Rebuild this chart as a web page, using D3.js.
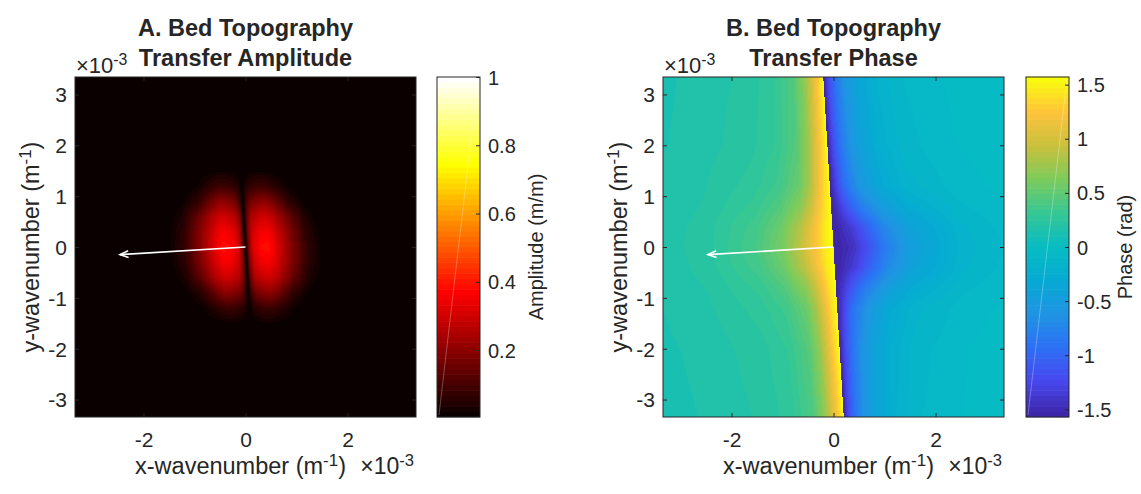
<!DOCTYPE html>
<html>
<head>
<meta charset="utf-8">
<script src="https://cdn.jsdelivr.net/npm/d3@7"></script>
<style>
  body { margin: 0; background: #fff; }
  text { font-family: "Liberation Sans", Arial, Helvetica, sans-serif; fill: #262626; }
</style>
</head>
<body>
<div id="fig"></div>
<script>
// wavenumbers are kept in units of 1e-3 m^-1 (axis exponent shown separately)
const kLim = [-3.343, 3.343];
const xTicks = [-2, 0, 2];
const yTicks = [-3, -2, -1, 0, 1, 2, 3];
const flowArrow = [-2.46, -0.15];   // quiver drawn from the origin
const ridgeSlope = 0.06;            // zero line of the transfer: kx = -0.06 ky

// A. amplitude on a (u, ky) grid, u = kx + ridgeSlope*ky
const ampU = [-1.8, -1.5, -1.2, -0.9, -0.6, -0.45, -0.3, -0.15, -0.07, 0, 0.07, 0.15, 0.3, 0.45, 0.6, 0.9, 1.2, 1.5, 1.8];
const ampKy = [-1.8, -1.5, -1.2, -0.9, -0.6, -0.3, 0, 0.3, 0.6, 0.9, 1.2, 1.5, 1.8];
const ampRows = [
  [0, 0, 0, 0, 0, 0, 0, 0, 0, 0, 0, 0, 0, 0, 0, 0, 0, 0, 0],
  [0, 0, 0, 0, 0.01, 0.015, 0.015, 0.01, 0.006, 0, 0.006, 0.01, 0.015, 0.015, 0.01, 0, 0, 0, 0],
  [0, 0, 0, 0.015, 0.06, 0.08, 0.08, 0.06, 0.04, 0, 0.04, 0.06, 0.08, 0.08, 0.06, 0.015, 0, 0, 0],
  [0, 0, 0.01, 0.06, 0.16, 0.20, 0.19, 0.16, 0.10, 0, 0.10, 0.16, 0.19, 0.20, 0.16, 0.06, 0.01, 0, 0],
  [0, 0, 0.04, 0.14, 0.26, 0.30, 0.29, 0.25, 0.16, 0, 0.16, 0.25, 0.29, 0.30, 0.26, 0.14, 0.04, 0, 0],
  [0, 0.01, 0.06, 0.18, 0.31, 0.36, 0.35, 0.30, 0.19, 0, 0.19, 0.30, 0.35, 0.36, 0.31, 0.18, 0.06, 0.01, 0],
  [0, 0.01, 0.07, 0.19, 0.33, 0.39, 0.38, 0.32, 0.20, 0, 0.20, 0.32, 0.38, 0.39, 0.33, 0.19, 0.07, 0.01, 0],
  [0, 0.01, 0.06, 0.18, 0.31, 0.36, 0.35, 0.30, 0.19, 0, 0.19, 0.30, 0.35, 0.36, 0.31, 0.18, 0.06, 0.01, 0],
  [0, 0, 0.04, 0.14, 0.26, 0.30, 0.29, 0.25, 0.16, 0, 0.16, 0.25, 0.29, 0.30, 0.26, 0.14, 0.04, 0, 0],
  [0, 0, 0.01, 0.06, 0.16, 0.20, 0.19, 0.16, 0.10, 0, 0.10, 0.16, 0.19, 0.20, 0.16, 0.06, 0.01, 0, 0],
  [0, 0, 0, 0.015, 0.06, 0.08, 0.08, 0.06, 0.04, 0, 0.04, 0.06, 0.08, 0.08, 0.06, 0.015, 0, 0, 0],
  [0, 0, 0, 0, 0.01, 0.015, 0.015, 0.01, 0.006, 0, 0.006, 0.01, 0.015, 0.015, 0.01, 0, 0, 0, 0],
  [0, 0, 0, 0, 0, 0, 0, 0, 0, 0, 0, 0, 0, 0, 0, 0, 0, 0, 0]
];
const ampLim = [0.004, 1];
const ampTicks = [0.2, 0.4, 0.6, 0.8, 1];

// B. phase (rad), each side of the zero line read separately
const phaseKy = [-3.4, -2.0, -1.2, -0.8, -0.4, 0, 0.4, 0.8, 1.2, 2.0, 3.4];
const phaseUL = [-3.6, -2.5, -1.5, -1.0, -0.6, -0.4, -0.25, -0.12, 0];
const phaseLeft = [
  [0.12, 0.16, 0.21, 0.28, 0.42, 0.65, 0.95, 1.25, 1.57],
  [0.13, 0.17, 0.23, 0.30, 0.46, 0.70, 1.00, 1.30, 1.57],
  [0.14, 0.19, 0.27, 0.36, 0.55, 0.80, 1.10, 1.35, 1.57],
  [0.15, 0.20, 0.31, 0.44, 0.68, 0.93, 1.20, 1.42, 1.57],
  [0.155, 0.215, 0.37, 0.55, 0.87, 1.11, 1.31, 1.48, 1.57],
  [0.16, 0.22, 0.40, 0.60, 0.95, 1.18, 1.35, 1.50, 1.57],
  [0.155, 0.215, 0.37, 0.55, 0.87, 1.11, 1.31, 1.48, 1.57],
  [0.15, 0.20, 0.31, 0.44, 0.68, 0.93, 1.20, 1.42, 1.57],
  [0.14, 0.19, 0.27, 0.36, 0.55, 0.80, 1.10, 1.35, 1.57],
  [0.13, 0.17, 0.23, 0.30, 0.46, 0.70, 1.00, 1.30, 1.57],
  [0.12, 0.16, 0.21, 0.28, 0.42, 0.65, 0.95, 1.25, 1.57]
];
const phaseUR = [0, 0.12, 0.25, 0.4, 0.6, 1.0, 1.5, 2.5, 3.6];
const phaseRight = [
  [-1.57, -1.15, -0.85, -0.62, -0.42, -0.20, -0.10, -0.04, -0.02],
  [-1.57, -1.20, -0.90, -0.68, -0.47, -0.24, -0.12, -0.05, -0.02],
  [-1.57, -1.30, -1.00, -0.80, -0.58, -0.32, -0.17, -0.07, -0.03],
  [-1.57, -1.42, -1.22, -1.02, -0.80, -0.50, -0.28, -0.11, -0.04],
  [-1.57, -1.52, -1.43, -1.32, -1.12, -0.74, -0.42, -0.16, -0.06],
  [-1.57, -1.55, -1.50, -1.42, -1.25, -0.85, -0.48, -0.18, -0.07],
  [-1.57, -1.52, -1.43, -1.32, -1.12, -0.74, -0.42, -0.16, -0.06],
  [-1.57, -1.42, -1.22, -1.02, -0.80, -0.50, -0.28, -0.11, -0.04],
  [-1.57, -1.30, -1.00, -0.80, -0.58, -0.32, -0.17, -0.07, -0.03],
  [-1.57, -1.20, -0.90, -0.68, -0.47, -0.24, -0.12, -0.05, -0.02],
  [-1.57, -1.15, -0.85, -0.62, -0.42, -0.20, -0.10, -0.04, -0.02]
];
const phaseLim = [-Math.PI / 2, Math.PI / 2];
const phaseTicks = [-1.5, -1, -0.5, 0, 0.5, 1, 1.5];

// colormaps (64 levels like the original figure)
const parulaAnchors = ["#3e26a8", "#4748ee", "#2d70f5", "#1f94e3", "#06aad3", "#07bcc3",
                       "#35c795", "#7bcb5d", "#c8c13d", "#fec23b", "#f9fb0e"];
const parula = d3.quantize(d3.piecewise(d3.interpolateRgb, parulaAnchors), 64).map(c => d3.rgb(c));
const hot = d3.range(64).map(i => d3.rgb(
  255 * Math.min(1, (i + 1) / 24),
  255 * Math.max(0, Math.min(1, (i + 1 - 24) / 24)),
  255 * Math.max(0, Math.min(1, (i + 1 - 48) / 16))));

const W = 1141, H = 494;
const svg = d3.select("#fig").append("svg").attr("width", W).attr("height", H);

// bilinear sampler built from d3 piecewise-linear scales
function gridSampler(cols, kys, rows) {
  const rowScales = rows.map(r => d3.scaleLinear().domain(cols).range(r).clamp(true));
  const rowIndex = d3.scaleLinear().domain(kys).range(d3.range(kys.length)).clamp(true);
  return (u, ky) => {
    const f = rowIndex(ky);
    const i = Math.min(Math.floor(f), kys.length - 2);
    const t = f - i;
    return rowScales[i](u) * (1 - t) + rowScales[i + 1](u) * t;
  };
}

const ampAt = gridSampler(ampU, ampKy, ampRows);
const leftAt = gridSampler(phaseUL, phaseKy, phaseLeft);
const rightAt = gridSampler(phaseUR, phaseKy, phaseRight);

const panels = [
  {
    left: 75, cbLeft: 437,
    title: ["A. Bed Topography", "Transfer Amplitude"],
    cbLabel: "Amplitude (m/m)",
    lim: ampLim, ticks: ampTicks, palette: hot,
    value: (kx, ky) => ampAt(kx + ridgeSlope * ky, ky)
  },
  {
    left: 663, cbLeft: 1026,
    title: ["B. Bed Topography", "Transfer Phase"],
    cbLabel: "Phase (rad)",
    lim: phaseLim, ticks: phaseTicks, palette: parula,
    value: (kx, ky) => {
      const u = kx + ridgeSlope * ky;
      return u < 0 ? leftAt(u, ky) : rightAt(u, ky);
    }
  }
];

const plotTop = 77, plotBottom = 417, plotW = 341, cbW = 43;
const axisColor = "#262626";

function paintField(g, x, y, sample, colorIndex, palette) {
  const [xa, xb] = x.range();
  const [ya, yb] = y.range();
  const w = Math.round(xb - xa), h = Math.round(ya - yb);
  const cnv = document.createElement("canvas");
  cnv.width = w; cnv.height = h;
  const ctx = cnv.getContext("2d");
  const img = ctx.createImageData(w, h);
  for (let j = 0; j < h; j++) {
    const ky = y.invert(yb + j + 0.5);
    for (let i = 0; i < w; i++) {
      const kx = x.invert(xa + i + 0.5);
      const c = palette[colorIndex(sample(kx, ky))];
      const o = 4 * (j * w + i);
      img.data[o] = c.r; img.data[o + 1] = c.g; img.data[o + 2] = c.b; img.data[o + 3] = 255;
    }
  }
  ctx.putImageData(img, 0, 0);
  g.append("image")
    .attr("x", xa).attr("y", yb).attr("width", w).attr("height", h)
    .attr("preserveAspectRatio", "none")
    .attr("href", cnv.toDataURL());
}

function supText(sel, base, sup, after) {
  sel.append("tspan").text(base);
  sel.append("tspan").attr("dy", -8).style("font-size", "0.72em").text(sup);
  sel.append("tspan").attr("dy", 8).text(after === undefined ? "" : after);
}

panels.forEach(p => {
  const g = svg.append("g");
  const x = d3.scaleLinear().domain(kLim).range([p.left, p.left + plotW]);
  const y = d3.scaleLinear().domain(kLim).range([plotBottom, plotTop]);
  const colorIndex = d3.scaleQuantize().domain(p.lim).range(d3.range(64));

  paintField(g, x, y, p.value, colorIndex, p.palette);

  // flow direction arrow
  const x0 = x(0), y0 = y(0), x1 = x(flowArrow[0]), y1 = y(flowArrow[1]);
  const ang = Math.atan2(y0 - y1, x0 - x1);
  const head = 9, spread = 0.38;
  g.append("line")
    .attr("x1", x0).attr("y1", y0).attr("x2", x1).attr("y2", y1)
    .attr("stroke", "#fff").attr("stroke-width", 1.6);
  g.append("path")
    .attr("d", `M${x1 + head * Math.cos(ang + spread)},${y1 + head * Math.sin(ang + spread)}L${x1},${y1}L${x1 + head * Math.cos(ang - spread)},${y1 + head * Math.sin(ang - spread)}`)
    .attr("fill", "none").attr("stroke", "#fff").attr("stroke-width", 1.6);

  // axes with inward ticks on all four sides
  const fmt = d => String(d);
  const ax = g.append("g").attr("transform", `translate(0,${plotBottom})`)
    .call(d3.axisBottom(x).tickValues(xTicks).tickSize(-4).tickPadding(15).tickFormat(fmt));
  const axT = g.append("g").attr("transform", `translate(0,${plotTop})`)
    .call(d3.axisTop(x).tickValues(xTicks).tickSize(-4).tickFormat(""));
  const ay = g.append("g").attr("transform", `translate(${p.left},0)`)
    .call(d3.axisLeft(y).tickValues(yTicks).tickSize(-4).tickPadding(8).tickFormat(fmt));
  const ayR = g.append("g").attr("transform", `translate(${p.left + plotW},0)`)
    .call(d3.axisRight(y).tickValues(yTicks).tickSize(-4).tickFormat(""));
  [ax, axT, ay, ayR].forEach(a => {
    a.select(".domain").remove();
    a.selectAll("line").attr("stroke", axisColor);
    a.selectAll("text").style("font-size", "21px").attr("fill", axisColor);
  });
  ay.selectAll("text").attr("dy", "0.35em");

  g.append("rect")
    .attr("x", p.left).attr("y", plotTop).attr("width", plotW).attr("height", plotBottom - plotTop)
    .attr("fill", "none").attr("stroke", axisColor).attr("stroke-width", 1);

  // exponent labels
  g.append("text").attr("x", p.left + 1).attr("y", 73).style("font-size", "22px")
    .call(s => supText(s, "\u00d710", "-3"));
  g.append("text").attr("x", p.left + plotW - 2).attr("y", 474).attr("text-anchor", "end")
    .style("font-size", "23px")
    .call(s => supText(s, "\u00d710", "-3"));

  // axis labels
  const cx = p.left + plotW / 2;
  g.append("text").attr("x", cx - 5).attr("y", 474).attr("text-anchor", "middle")
    .style("font-size", "23.5px")
    .call(s => supText(s, "x-wavenumber (m", "-1", ")"));
  g.append("text")
    .attr("transform", `translate(${p.left - 36},${(plotTop + plotBottom) / 2}) rotate(-90)`)
    .attr("text-anchor", "middle").style("font-size", "23.5px")
    .call(s => supText(s, "y-wavenumber (m", "-1", ")"));

  // title
  g.append("text").attr("x", cx).attr("y", 36).attr("text-anchor", "middle")
    .style("font-size", "23.5px").style("font-weight", "bold").attr("fill", "#000")
    .text(p.title[0]);
  g.append("text").attr("x", cx).attr("y", 66).attr("text-anchor", "middle")
    .style("font-size", "23.5px").style("font-weight", "bold").attr("fill", "#000")
    .text(p.title[1]);

  // colorbar
  const cb = svg.append("g");
  const cbScale = d3.scaleLinear().domain(p.lim).range([plotBottom, plotTop]);
  const band = d3.scaleBand().domain(d3.range(64)).range([plotBottom, plotTop]);
  cb.selectAll("rect.cell").data(d3.range(64)).join("rect")
    .attr("class", "cell")
    .attr("x", p.cbLeft).attr("width", cbW)
    .attr("y", d => band(d) - 0.3).attr("height", band.bandwidth() + 0.6)
    .attr("fill", d => p.palette[d]);
  cb.append("line")
    .attr("x1", p.cbLeft + 2).attr("y1", plotBottom - 2).attr("x2", p.cbLeft + cbW - 2).attr("y2", plotTop + 2)
    .attr("stroke", "#fff").attr("stroke-opacity", 0.4).attr("stroke-width", 0.7);
  const cbAxis = cb.append("g").attr("transform", `translate(${p.cbLeft + cbW},0)`)
    .call(d3.axisRight(cbScale).tickValues(p.ticks).tickSize(-4).tickPadding(8).tickFormat(fmt));
  cbAxis.select(".domain").remove();
  cbAxis.selectAll("line").attr("stroke", axisColor);
  cbAxis.selectAll("text").style("font-size", "20px").attr("fill", axisColor).attr("dy", "0.35em");
  cb.append("rect")
    .attr("x", p.cbLeft).attr("y", plotTop).attr("width", cbW).attr("height", plotBottom - plotTop)
    .attr("fill", "none").attr("stroke", axisColor).attr("stroke-width", 1);
  cb.append("text")
    .attr("transform", `translate(${p.cbLeft + cbW + 63},${(plotTop + plotBottom) / 2}) rotate(-90)`)
    .attr("text-anchor", "middle").style("font-size", "20px")
    .text(p.cbLabel);
});
</script>
</body>
</html>
